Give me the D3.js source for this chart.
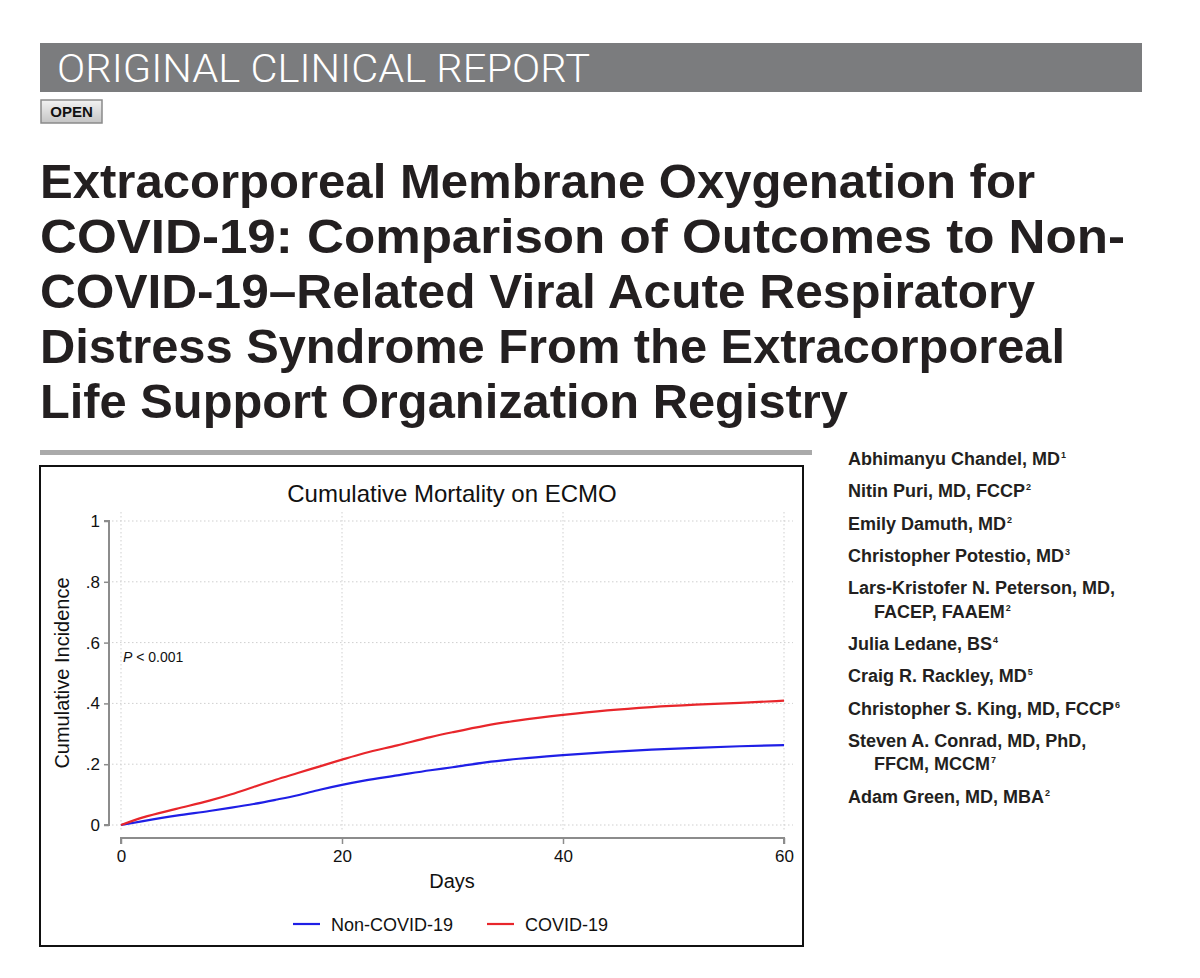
<!DOCTYPE html>
<html>
<head>
<meta charset="utf-8">
<script src="https://cdn.jsdelivr.net/npm/d3@7"></script>
<style>
  body { margin: 0; background: #fff; }
  svg { display: block; font-family: "Liberation Sans", Arial, Helvetica, sans-serif; }
</style>
</head>
<body>
<svg id="page" width="1200" height="978"></svg>
<script>
// Chart data
let days = [0, 2, 5, 8, 10, 12, 14, 16, 18, 20, 22, 25, 28, 30, 33, 36, 40, 44, 48, 52, 56, 60];
let nonCovid = [0, 0.013, 0.031, 0.046, 0.057, 0.069, 0.083, 0.098, 0.116, 0.132, 0.146, 0.163, 0.180, 0.190, 0.206, 0.218, 0.230, 0.240, 0.248, 0.254, 0.259, 0.263];
let covid = [0, 0.025, 0.053, 0.080, 0.101, 0.125, 0.149, 0.171, 0.193, 0.215, 0.236, 0.262, 0.289, 0.305, 0.327, 0.344, 0.362, 0.377, 0.388, 0.396, 0.402, 0.409];
let seriesNames = ["Non-COVID-19", "COVID-19"];
let seriesColors = ["#1f1fe6", "#e8262b"];
let xTicks = [0, 20, 40, 60];
let yTicks = [0, 0.2, 0.4, 0.6, 0.8, 1];
let yTickLabels = ["0", ".2", ".4", ".6", ".8", "1"];

let titleLines = [
  "Extracorporeal Membrane Oxygenation for",
  "COVID-19: Comparison of Outcomes to Non-",
  "COVID-19\u2013Related Viral Acute Respiratory",
  "Distress Syndrome From the Extracorporeal",
  "Life Support Organization Registry"
];
// rendered width of each title line (layout only)
let titleWidths = [995, 1085, 995, 1025, 808];

// each author: [lines..., superscript]
let authors = [
  [["Abhimanyu Chandel, MD"], "1"],
  [["Nitin Puri, MD, FCCP"], "2"],
  [["Emily Damuth, MD"], "2"],
  [["Christopher Potestio, MD"], "3"],
  [["Lars-Kristofer N. Peterson, MD,", "FACEP, FAAEM"], "2"],
  [["Julia Ledane, BS"], "4"],
  [["Craig R. Rackley, MD"], "5"],
  [["Christopher S. King, MD, FCCP"], "6"],
  [["Steven A. Conrad, MD, PhD,", "FFCM, MCCM"], "7"],
  [["Adam Green, MD, MBA"], "2"]
];

let svg = d3.select("#page");
svg.append("rect").attr("width", 1200).attr("height", 978).attr("fill", "#fff");

// Header banner
svg.append("rect").attr("x", 40).attr("y", 43).attr("width", 1102).attr("height", 49).attr("fill", "#7b7c7e");
svg.append("text").attr("x", 57).attr("y", 82)
  .attr("font-size", 39).attr("font-weight", 300).attr("fill", "#fff")
  .attr("font-family", "Roboto, 'Liberation Sans', sans-serif")
  .attr("textLength", 533).attr("lengthAdjust", "spacingAndGlyphs")
  .text("ORIGINAL CLINICAL REPORT");

// OPEN badge
let defs = svg.append("defs");
let grad = defs.append("linearGradient").attr("id", "openGrad").attr("x1", 0).attr("y1", 0).attr("x2", 0).attr("y2", 1);
grad.append("stop").attr("offset", "0%").attr("stop-color", "#f2f2f2");
grad.append("stop").attr("offset", "100%").attr("stop-color", "#c4c4c4");
svg.append("rect").attr("x", 41).attr("y", 100).attr("width", 61).attr("height", 23)
  .attr("fill", "url(#openGrad)").attr("stroke", "#8a8a8a").attr("stroke-width", 1.5);
svg.append("text").attr("x", 71.5).attr("y", 117).attr("text-anchor", "middle")
  .attr("font-size", 15).attr("font-weight", "bold").attr("fill", "#111").text("OPEN");

// Title
svg.append("g").selectAll("text").data(titleLines).join("text")
  .attr("x", 40).attr("y", (d, i) => 198 + i * 54.9)
  .attr("font-size", 48).attr("font-weight", "bold").attr("fill", "#231f20")
  .attr("textLength", (d, i) => titleWidths[i]).attr("lengthAdjust", "spacingAndGlyphs")
  .text(d => d);

// separator
svg.append("rect").attr("x", 40).attr("y", 450).attr("width", 772).attr("height", 5).attr("fill", "#aaaaaa");

// Authors
let ay = 465;
let ag = svg.append("g").attr("font-size", 18).attr("font-weight", "bold").attr("fill", "#231f20");
authors.forEach(a => {
  a[0].forEach((line, j) => {
    let t = ag.append("text").attr("x", j === 0 ? 848 : 874).attr("y", ay);
    t.append("tspan").text(line);
    if (j === a[0].length - 1) {
      t.append("tspan").attr("font-size", 9).attr("dy", -7).attr("dx", 1).text(a[1]);
    }
    ay += (j < a[0].length - 1) ? 23.5 : 32.3;
  });
});

// Chart frame
svg.append("rect").attr("x", 40).attr("y", 466).attr("width", 763).attr("height", 480)
  .attr("fill", "#fff").attr("stroke", "#111").attr("stroke-width", 2);

let x = d3.scaleLinear().domain([0, 60]).range([121, 784]);
let y = d3.scaleLinear().domain([0, 1]).range([825, 521]);

svg.append("text").attr("x", 452).attr("y", 502).attr("text-anchor", "middle")
  .attr("font-size", 24).attr("fill", "#111").text("Cumulative Mortality on ECMO");

// grid
let grid = svg.append("g").attr("stroke", "#cfcfcf").attr("stroke-width", 1).attr("stroke-dasharray", "1.5,2.5");
grid.selectAll(".h").data(yTicks).join("line")
  .attr("x1", 112).attr("x2", 793).attr("y1", d => y(d)).attr("y2", d => y(d));
grid.selectAll(".v").data(xTicks).join("line")
  .attr("x1", d => x(d)).attr("x2", d => x(d)).attr("y1", 512).attr("y2", 830);

// y axis
let yAxis = svg.append("g").attr("transform", "translate(109,0)")
  .call(d3.axisLeft(y).tickValues(yTicks).tickFormat((d, i) => yTickLabels[i]).tickSize(5).tickPadding(4));
yAxis.select(".domain").attr("stroke", "#8c8c8c").attr("stroke-width", 2).attr("d", `M-5,${y(1)}H0V${y(0)}H-5`);
yAxis.selectAll(".tick line").attr("stroke", "#8c8c8c").attr("stroke-width", 1.5);
yAxis.selectAll(".tick text").attr("font-size", 17).attr("fill", "#111").attr("font-family", "Liberation Sans, Arial, sans-serif");

// x axis
let xAxis = svg.append("g").attr("transform", "translate(0,838)")
  .call(d3.axisBottom(x).tickValues(xTicks).tickFormat(d3.format("d")).tickSize(6).tickPadding(6));
xAxis.select(".domain").attr("stroke", "#8c8c8c").attr("stroke-width", 2).attr("d", `M${x(0)},6V0H${x(60)}V6`);
xAxis.selectAll(".tick line").attr("stroke", "#8c8c8c").attr("stroke-width", 1.5);
xAxis.selectAll(".tick text").attr("font-size", 17).attr("fill", "#111").attr("font-family", "Liberation Sans, Arial, sans-serif");

svg.append("text").attr("x", 452).attr("y", 888).attr("text-anchor", "middle")
  .attr("font-size", 20).attr("fill", "#111").text("Days");
svg.append("text").attr("transform", "translate(69,673) rotate(-90)").attr("text-anchor", "middle")
  .attr("font-size", 20).attr("fill", "#111").text("Cumulative Incidence");

let pt = svg.append("text").attr("x", 123).attr("y", 662).attr("font-size", 14).attr("fill", "#111");
pt.append("tspan").attr("font-style", "italic").text("P");
pt.append("tspan").text(" < 0.001");

// curves
let line = d3.line().x((d, i) => x(days[i])).y(d => y(d)).curve(d3.curveMonotoneX);
[nonCovid, covid].forEach((s, k) => {
  svg.append("path").datum(s).attr("d", line).attr("fill", "none")
    .attr("stroke", seriesColors[k]).attr("stroke-width", 2.2);
});

// legend
let legX = [293, 487];
seriesNames.forEach((n, k) => {
  svg.append("line").attr("x1", legX[k]).attr("x2", legX[k] + 27).attr("y1", 924).attr("y2", 924)
    .attr("stroke", seriesColors[k]).attr("stroke-width", 2.2);
  svg.append("text").attr("x", legX[k] + 38).attr("y", 931).attr("font-size", 18).attr("fill", "#111").text(n);
});
</script>
</body>
</html>
